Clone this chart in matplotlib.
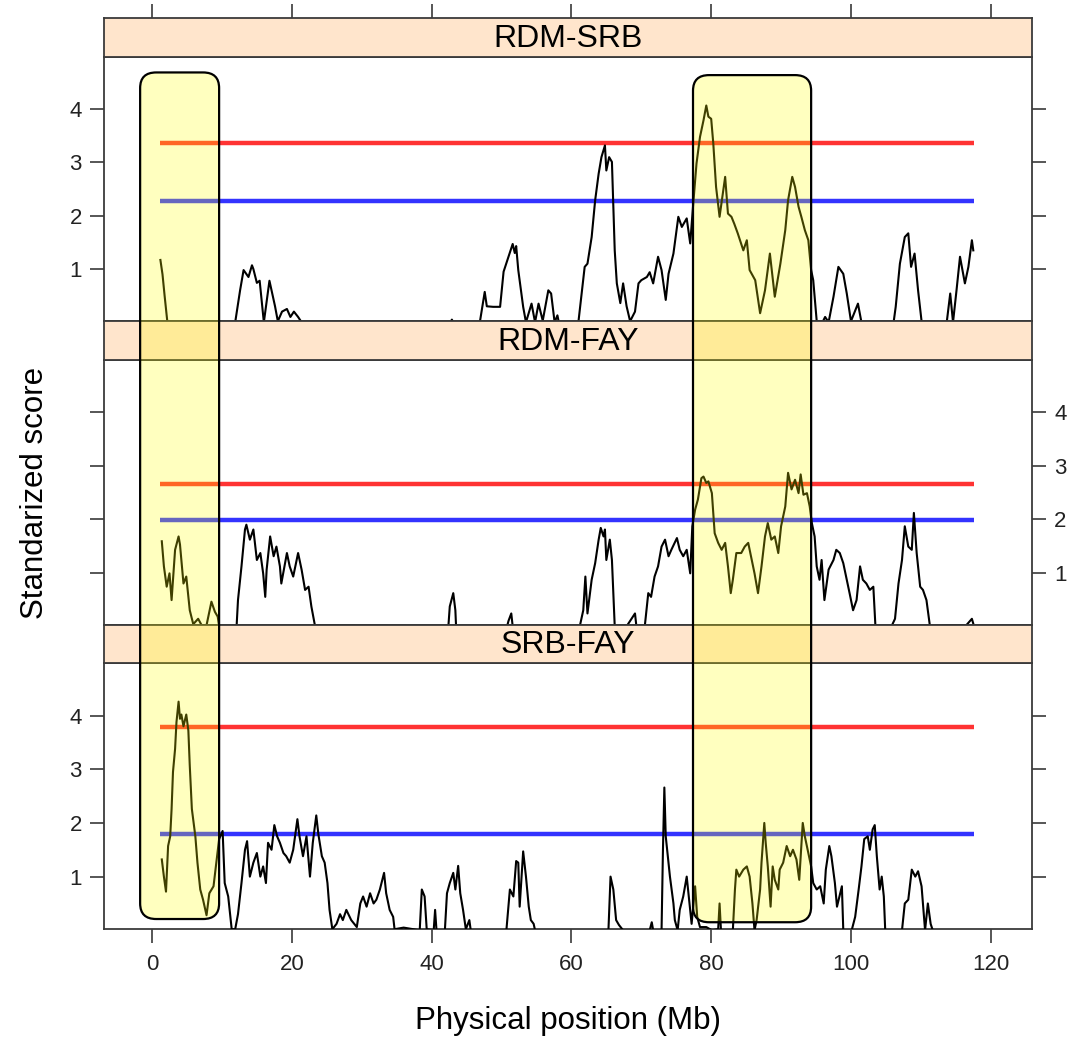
import matplotlib
matplotlib.use("Agg")
import matplotlib.pyplot as plt
from matplotlib.patches import FancyBboxPatch

plt.rcParams['font.family'] = ['Liberation Sans', 'DejaVu Sans']

# standardized scores along the chromosome (Mb), one pair of lists per comparison
pos_rdm_srb = [1.2, 1.5, 1.8, 2.2, 11.9, 12.6, 13.1, 13.8, 14.3, 14.5, 15.0, 15.4, 16.0, 16.8, 17.1, 17.6,
               18.0, 18.6, 19.3, 19.8, 20.3, 20.9, 21.4, 42.7, 42.9, 43.1, 46.9, 47.6, 47.9, 48.8, 49.8,
               50.3, 51.0, 51.6, 51.9, 52.1, 52.4, 53.1, 53.5, 54.3, 54.8, 55.3, 55.9, 56.7, 57.1, 57.6,
               58.0, 58.2, 61.0, 61.2, 61.9, 62.3, 62.9, 63.4, 63.9, 64.3, 64.8, 65.0, 65.4, 65.8, 66.0,
               66.2, 66.5, 67.0, 67.4, 67.9, 68.4, 69.1, 69.6, 70.0, 70.8, 71.2, 71.7, 72.4, 72.9, 73.5,
               73.9, 74.6, 75.3, 75.8, 76.5, 77.0, 77.4, 77.9, 78.4, 78.9, 79.3, 79.6, 80.0, 80.3, 80.7,
               81.2, 82.0, 82.4, 82.9, 83.3, 83.8, 84.6, 85.1, 85.5, 86.3, 87.0, 87.7, 88.4, 89.1, 89.9,
               90.6, 91.0, 91.6, 92.0, 92.5, 92.9, 93.4, 93.9, 94.3, 94.6, 95.1, 96.0, 96.3, 96.8, 97.5,
               98.2, 98.9, 99.4, 100.0, 101.0, 101.5, 106.1, 106.4, 107.0, 107.7, 108.2, 108.6, 109.1,
               109.6, 110.1, 113.7, 114.2, 114.6, 115.1, 115.6, 116.3, 116.8, 117.3, 117.5]
score_rdm_srb = [1.17, 0.9, 0.5, 0.0, 0.0, 0.6, 0.98, 0.85, 1.07, 1.0, 0.74, 0.78, 0.0, 0.78, 0.6, 0.3,
                 0.02, 0.2, 0.25, 0.1, 0.2, 0.1, 0.0, 0.0, 0.05, 0.0, 0.0, 0.57, 0.3, 0.29, 0.29,
                 0.95, 1.23, 1.47, 1.3, 1.43, 0.98, 0.29, 0.0, 0.35, 0.0, 0.35, 0.03, 0.6, 0.54, 0.0,
                 0.13, 0.0, 0.0, 0.23, 1.04, 1.1, 1.6, 2.29, 2.79, 3.1, 3.32, 2.85, 3.1, 3.01, 2.17,
                 1.35, 0.73, 0.36, 0.73, 0.3, 0.02, 0.2, 0.73, 0.79, 0.85, 0.94, 0.73, 1.23, 0.98, 0.42,
                 0.91, 1.29, 1.98, 1.79, 1.95, 1.48, 2.17, 2.98, 3.48, 3.79, 4.07, 3.86, 3.82, 3.36, 2.54,
                 1.98, 2.73, 2.04, 1.98, 1.85, 1.67, 1.35, 1.54, 0.98, 0.79, 0.17, 0.6, 1.29, 0.48, 1.1,
                 1.73, 2.29, 2.73, 2.54, 2.17, 1.98, 1.73, 1.54, 0.98, 0.79, 0.02, 0.02, 0.1, 0.0, 0.48,
                 1.04, 0.91, 0.54, 0.02, 0.35, 0.0, 0.0, 0.29, 1.1, 1.6, 1.67, 1.04, 1.29,
                 0.6, 0.02, 0.0, 0.54, 0.0, 0.6, 1.23, 0.73, 1.04, 1.54, 1.35]

pos_rdm_fay = [1.4, 1.7, 2.1, 2.5, 2.8, 3.3, 3.8, 4.0, 4.5, 4.9, 5.4, 5.9, 6.6, 7.1, 7.8, 8.5, 9.0, 9.4,
               9.6, 12.1, 12.3, 12.8, 13.3, 13.5, 14.0, 14.5, 15.0, 15.5, 15.9, 16.2, 16.4, 16.9, 17.4,
               17.8, 18.3, 18.5, 19.3, 19.7, 20.2, 20.9, 21.4, 21.9, 22.4, 22.8, 23.3, 42.4, 42.6, 43.1,
               43.4, 43.5, 50.8, 51.0, 51.4, 51.6, 61.2, 61.7, 62.0, 62.3, 62.9, 63.4, 63.9, 64.2, 64.6,
               64.8, 65.0, 65.5, 65.8, 66.2, 67.9, 68.4, 69.1, 69.3, 70.5, 71.0, 71.4, 71.9, 72.4, 72.9,
               73.4, 73.9, 74.3, 75.1, 75.5, 76.0, 76.5, 77.0, 77.3, 77.7, 78.1, 78.6, 78.9, 79.3, 79.6,
               80.1, 80.5, 81.0, 81.5, 82.0, 82.4, 82.8, 83.1, 83.6, 84.3, 84.8, 85.3, 85.8, 86.2, 86.7,
               87.2, 87.7, 88.1, 88.6, 89.1, 89.6, 90.0, 90.6, 91.0, 91.5, 92.0, 92.5, 92.8, 93.2, 93.7,
               94.1, 94.4, 94.8, 95.1, 95.5, 95.8, 96.2, 96.8, 97.5, 97.9, 98.4, 98.9, 99.4, 99.8, 100.3,
               100.8, 101.3, 101.7, 102.2, 102.7, 103.2, 103.5, 105.8, 106.3, 106.8, 107.3, 107.7,
               108.2, 108.7, 109.0, 109.4, 109.9, 110.3, 110.8, 111.3, 113.7, 116.5, 117.3, 117.5]
score_rdm_fay = [1.59, 1.12, 0.74, 0.99, 0.49, 1.43, 1.68, 1.53, 0.8, 0.93, 0.3, 0.04, 0.14, 0.02, 0.02,
                 0.46, 0.27, 0.18, 0.0, 0.0, 0.49, 1.12, 1.81, 1.9, 1.62, 1.81, 1.24, 1.37, 0.99, 0.55,
                 1.06, 1.68, 1.31, 1.49, 1.12, 0.8, 1.37, 1.12, 0.93, 1.37, 1.06, 0.68, 0.74, 0.37, 0.02,
                 0.0, 0.37, 0.62, 0.3, 0.0, 0.0, 0.1, 0.24, 0.0, 0.0, 0.3, 0.93, 0.24, 0.87, 1.18, 1.62,
                 1.84, 1.68, 1.81, 1.24, 1.62, 1.24, 0.0, 0.0, 0.1, 0.24, 0.0, 0.0, 0.62, 0.55, 0.93,
                 1.12, 1.49, 1.62, 1.31, 1.43, 1.65, 1.43, 1.31, 1.43, 0.99, 1.87, 2.18, 2.37, 2.77, 2.8,
                 2.68, 2.71, 2.49, 1.74, 1.56, 1.43, 1.56, 1.12, 0.62, 0.87, 1.37, 1.37, 1.49, 1.56,
                 1.24, 0.99, 0.62, 1.12, 1.68, 1.93, 1.62, 1.68, 1.37, 1.87, 2.24, 2.87, 2.56, 2.74,
                 2.49, 2.84, 2.46, 2.49, 2.24, 1.93, 1.68, 1.12, 0.87, 1.24, 0.49, 1.06, 1.24, 1.43,
                 1.37, 1.18, 0.87, 0.62, 0.3, 0.49, 1.12, 0.87, 0.8, 0.68, 0.74, 0.0, 0.0, 0.14, 0.8,
                 1.24, 1.87, 1.49, 1.43, 2.12, 1.37, 0.74, 0.68, 0.49, 0.0, 0.02, 0.02, 0.14, 0.05]

pos_srb_fay = [1.4, 1.7, 2.0, 2.3, 2.6, 2.8, 3.0, 3.3, 3.5, 3.8, 4.0, 4.2, 4.5, 4.9, 5.2, 5.4, 5.7, 6.2,
               6.5, 6.9, 7.3, 7.8, 8.2, 8.8, 9.2, 9.6, 10.1, 10.4, 10.9, 11.4, 11.9, 12.3, 12.8, 13.3,
               13.6, 14.0, 14.5, 15.0, 15.5, 15.9, 16.3, 16.6, 17.1, 17.5, 17.9, 18.3, 18.8, 19.2, 19.7,
               20.2, 20.8, 21.1, 21.6, 22.1, 22.6, 23.0, 23.5, 23.8, 24.3, 24.7, 25.1, 25.4, 25.8, 26.4,
               26.9, 27.3, 27.8, 28.5, 29.3, 29.8, 30.2, 30.7, 31.2, 31.7, 32.1, 32.6, 33.2, 33.5, 34.0,
               34.5, 34.7, 36.0, 38.3, 38.6, 39.0, 39.3, 40.3, 40.5, 40.7, 41.9, 42.2, 42.6, 43.1, 43.4,
               43.8, 44.1, 44.5, 44.9, 45.4, 45.6, 50.7, 51.2, 51.7, 52.1, 52.4, 52.6, 53.1, 53.5, 53.9,
               54.2, 54.6, 54.8, 65.3, 65.6, 66.0, 66.4, 66.8, 67.4, 71.2, 71.5, 71.7, 72.9, 73.1, 73.3,
               73.5, 73.7, 74.1, 74.6, 74.8, 75.2, 75.5, 76.0, 76.5, 76.9, 77.2, 77.7, 78.0, 78.4, 79.3,
               80.1, 81.0, 81.2, 81.4, 83.1, 83.4, 83.6, 84.0, 84.6, 85.1, 85.5, 85.9, 86.2, 86.5, 87.0,
               87.2, 87.6, 87.8, 88.1, 88.5, 88.8, 89.1, 89.6, 89.8, 90.3, 90.8, 91.3, 91.7, 92.2, 92.6,
               93.1, 93.4, 93.9, 94.3, 94.6, 95.1, 95.6, 96.1, 96.4, 96.9, 97.2, 97.7, 98.0, 98.7, 98.9,
               100.1, 100.6, 101.1, 101.5, 101.9, 102.4, 102.7, 103.1, 103.4, 103.7, 104.1, 104.4,
               104.7, 104.9, 107.3, 107.7, 108.2, 108.7, 109.2, 109.6, 110.1, 110.3, 110.6, 111.0,
               111.4, 111.7]
score_srb_fay = [1.32, 1.0, 0.72, 1.57, 1.75, 2.26, 2.95, 3.38, 3.88, 4.26, 3.94, 4.02, 3.8, 4.02, 3.72,
                 3.07, 2.26, 1.75, 1.26, 0.76, 0.57, 0.28, 0.69, 0.82, 1.26, 1.7, 1.85, 0.88, 0.63, 0.02,
                 0.02, 0.3, 0.88, 1.5, 1.66, 1.0, 1.26, 1.44, 1.0, 1.19, 0.88, 1.63, 1.5, 1.96, 1.75,
                 1.63, 1.44, 1.38, 1.26, 1.5, 2.07, 1.75, 1.38, 1.75, 1.0, 1.63, 2.14, 1.79, 1.38, 1.26,
                 0.88, 0.38, 0.02, 0.12, 0.3, 0.19, 0.38, 0.19, 0.06, 0.5, 0.63, 0.44, 0.69, 0.5, 0.57,
                 0.76, 1.07, 0.69, 0.38, 0.25, 0.02, 0.05, 0.0, 0.76, 0.63, 0.02, 0.0, 0.38, 0.0, 0.0,
                 0.69, 0.88, 1.07, 0.76, 1.2, 0.69, 0.38, 0.02, 0.19, 0.0, 0.0, 0.76, 0.63, 1.29, 1.26,
                 0.44, 1.47, 1.0, 0.44, 0.19, 0.12, 0.0, 0.0, 1.0, 0.76, 0.19, 0.1, 0.0, 0.0, 0.15, 0.0,
                 0.0, 1.5, 2.66, 1.75, 1.5, 1.0, 0.5, 0.19, 0.0, 0.38, 0.63, 1.0, 0.5, 0.12, 0.82, 0.25,
                 0.06, 0.06, 0.0, 0.02, 0.5, 0.0, 0.0, 0.76, 1.13, 1.0, 1.13, 1.19, 1.0, 0.5, 0.0, 0.19,
                 0.76, 1.26, 2.0, 1.63, 1.19, 0.44, 1.19, 0.94, 0.76, 1.13, 1.26, 1.57, 1.38, 1.5, 1.32,
                 0.94, 2.0, 1.75, 1.44, 1.19, 0.88, 0.76, 0.82, 0.5, 1.13, 1.57, 1.38, 0.88, 0.44, 0.82,
                 0.0, 0.0, 0.25, 0.76, 1.19, 1.7, 1.75, 1.5, 1.88, 1.96, 1.38, 0.76, 1.0, 0.63, 0.0, 0.0,
                 0.5, 0.57, 1.13, 1.0, 1.1, 0.82, 0.5, 0.0, 0.5, 0.12, 0.0]

panel_names = ["RDM-SRB", "RDM-FAY", "SRB-FAY"]
upper_threshold = [3.36, 2.66, 3.79]
lower_threshold = [2.28, 1.98, 1.79]
chrom_start, chrom_end = 1.2, 117.6

# highlighted candidate regions (Mb), plus their top/bottom in score units
region_start = [-1.7, 77.4]
region_end = [9.6, 94.3]
region_top = [4.69, 4.64]
region_bottom = [0.21, 0.15]

positions = [pos_rdm_srb, pos_rdm_fay, pos_srb_fay]
scores = [score_rdm_srb, score_rdm_fay, score_srb_fay]

W, H = 1068, 1037
fig = plt.figure(figsize=(W / 100, H / 100), dpi=100)

frame_col = "#3a3a3a"
xlim = (-6.87, 125.9)
ylim = (0.024, 4.98)
left, right = 104, 1032
# (strip top, data top, data bottom) in pixels from the top of the image
rows = [(18, 57, 321), (321, 360, 625), (625, 663, 929)]


def px_box(x0, x1, ytop, ybot):
    return [x0 / W, 1 - ybot / H, (x1 - x0) / W, (ybot - ytop) / H]


axes = []
for i, (s_top, d_top, d_bot) in enumerate(rows):
    ax = fig.add_axes(px_box(left, right, d_top, d_bot))
    st = fig.add_axes(px_box(left, right, s_top, d_top))

    ax.plot(positions[i], scores[i], color="black", lw=1.5, zorder=3)
    ax.plot([chrom_start, chrom_end], [upper_threshold[i]] * 2, color="red", lw=3.2, alpha=0.8,
            solid_capstyle="butt", zorder=2)
    ax.plot([chrom_start, chrom_end], [lower_threshold[i]] * 2, color="blue", lw=3.2, alpha=0.8,
            solid_capstyle="butt", zorder=2)

    ax.set_xlim(xlim)
    ax.set_ylim(ylim)
    ax.set_yticks([1, 2, 3, 4])
    ax.set_xticks([0, 20, 40, 60, 80, 100, 120])
    ax.tick_params(axis="y", direction="out", length=10, width=1.2, color=frame_col,
                   labelsize=16, labelcolor="#222222", pad=6, left=True, right=True,
                   labelleft=(i != 1), labelright=(i == 1))
    ax.tick_params(axis="x", direction="out", length=10, width=1.2, color=frame_col,
                   labelsize=16, labelcolor="#222222", pad=8, bottom=(i == 2), top=False,
                   labelbottom=(i == 2), labeltop=False)
    for sp in ax.spines.values():
        sp.set_color(frame_col)
        sp.set_linewidth(1.3)

    st.set_facecolor("#FFE5CC")
    st.set_xlim(xlim)
    st.set_yticks([])
    st.set_xticks([0, 20, 40, 60, 80, 100, 120])
    st.tick_params(axis="x", direction="out", length=10, width=1.2, color=frame_col,
                   bottom=False, labelbottom=False, top=(i == 0), labeltop=False)
    for sp in st.spines.values():
        sp.set_color(frame_col)
        sp.set_linewidth(1.3)
    st.text(0.5, 0.47, panel_names[i], transform=st.transAxes, ha="center", va="center",
            fontsize=23)
    axes.append(ax)

fig.text(568 / W, 1 - 1021 / H, "Physical position (Mb)", ha="center", va="center", fontsize=22.5)
fig.text(35 / W, 1 - 493 / H, "Standarized score", ha="center", va="center", rotation=90,
         fontsize=22.5)


def to_fig(ax, x, y):
    d = ax.transData.transform((x, y))
    return fig.transFigure.inverted().transform(d)


# shaded boxes spanning all three panels
for x0, x1, yt, yb in zip(region_start, region_end, region_top, region_bottom):
    fx0, fyt = to_fig(axes[0], x0, yt)
    fx1, fyb = to_fig(axes[2], x1, yb)
    style = "round,pad=0,rounding_size=0.015"
    fill = FancyBboxPatch((fx0, fyb), fx1 - fx0, fyt - fyb, boxstyle=style,
                          transform=fig.transFigure, facecolor="yellow", edgecolor="none",
                          alpha=0.25, zorder=5)
    edge = FancyBboxPatch((fx0, fyb), fx1 - fx0, fyt - fyb, boxstyle=style,
                          transform=fig.transFigure, facecolor="none", edgecolor="black",
                          lw=1.6, zorder=6)
    fig.add_artist(fill)
    fig.add_artist(edge)

fig.savefig("out.png", dpi=100, facecolor="white")
